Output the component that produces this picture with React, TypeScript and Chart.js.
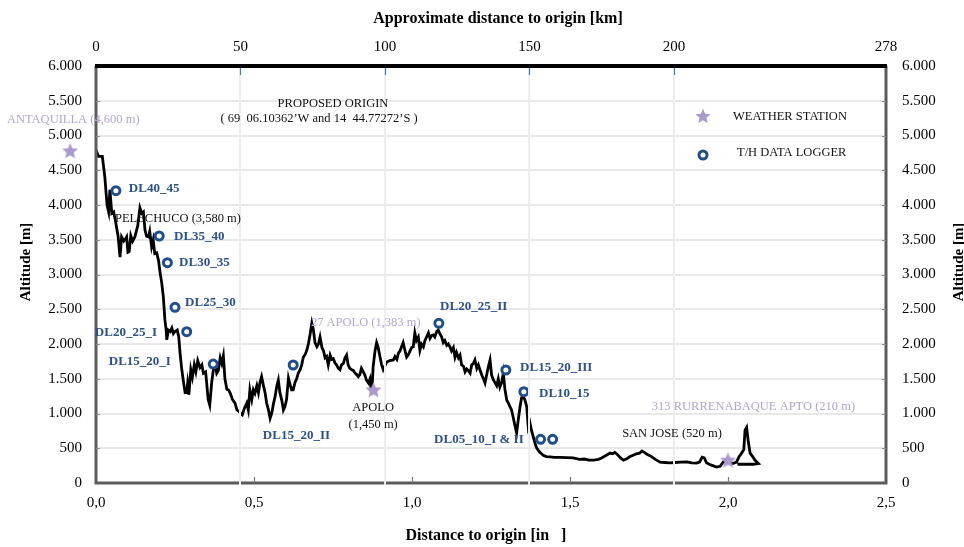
import React, { useEffect, useRef } from "react";
import { Chart, registerables } from "chart.js";
Chart.register(...registerables);

// ---------- DATA ----------
const profileDistance = [
  0.000, 0.008, 0.020, 0.028, 0.035, 0.040, 0.044, 0.050, 0.056, 0.062, 0.070, 0.076, 0.081, 0.088, 0.092, 0.097,
  0.101, 0.105, 0.110, 0.116, 0.123, 0.132, 0.139, 0.145, 0.150, 0.155, 0.160, 0.166, 0.170, 0.176, 0.181, 0.186,
  0.192, 0.198, 0.203, 0.208, 0.213, 0.218, 0.222, 0.224, 0.229, 0.235, 0.240, 0.245, 0.250, 0.257, 0.262, 0.266,
  0.271, 0.276, 0.282, 0.287, 0.290, 0.294, 0.300, 0.305, 0.311, 0.316, 0.322, 0.329, 0.335, 0.340, 0.347, 0.355,
  0.360, 0.366, 0.372, 0.377, 0.382, 0.387, 0.393, 0.398, 0.403, 0.408, 0.414, 0.419, 0.425, 0.432, 0.440, 0.446,
  0.452, 0.458, 0.463, 0.470, 0.477, 0.482, 0.487, 0.493, 0.498, 0.503, 0.509, 0.514, 0.519, 0.524, 0.530, 0.535,
  0.540, 0.546, 0.551, 0.556, 0.562, 0.567, 0.572, 0.577, 0.582, 0.588, 0.593, 0.598, 0.603, 0.609, 0.614, 0.619,
  0.624, 0.630, 0.635, 0.640, 0.646, 0.651, 0.656, 0.662, 0.667, 0.672, 0.678, 0.683, 0.688, 0.693, 0.699, 0.704,
  0.709, 0.715, 0.720, 0.725, 0.730, 0.735, 0.741, 0.746, 0.751, 0.756, 0.761, 0.767, 0.772, 0.777, 0.783, 0.788,
  0.793, 0.798, 0.803, 0.809, 0.814, 0.820, 0.825, 0.830, 0.835, 0.840, 0.846, 0.851, 0.856, 0.862, 0.867, 0.870,
  0.874, 0.877, 0.883, 0.888, 0.893, 0.899, 0.904, 0.909, 0.914, 0.920, 0.930, 0.941, 0.946, 0.952, 0.957, 0.962,
  0.967, 0.972, 0.978, 0.983, 0.988, 0.994, 0.999, 1.004, 1.009, 1.014, 1.020, 1.025, 1.030, 1.036, 1.041, 1.046,
  1.052, 1.057, 1.062, 1.067, 1.072, 1.078, 1.083, 1.088, 1.094, 1.099, 1.104, 1.110, 1.115, 1.120, 1.125, 1.131,
  1.136, 1.141, 1.147, 1.152, 1.157, 1.163, 1.168, 1.173, 1.178, 1.184, 1.189, 1.194, 1.199, 1.205, 1.210, 1.215,
  1.221, 1.226, 1.231, 1.236, 1.242, 1.247, 1.252, 1.258, 1.263, 1.268, 1.273, 1.278, 1.284, 1.289, 1.294, 1.300,
  1.305, 1.310, 1.315, 1.320, 1.326, 1.331, 1.336, 1.342, 1.347, 1.352, 1.357, 1.363, 1.368, 1.373, 1.378, 1.384,
  1.390, 1.395, 1.400, 1.405, 1.410, 1.415, 1.425, 1.437, 1.450, 1.470, 1.490, 1.510, 1.530, 1.545, 1.560, 1.575,
  1.590, 1.600, 1.615, 1.627, 1.635, 1.642, 1.650, 1.660, 1.669, 1.680, 1.690, 1.700, 1.710, 1.720, 1.728, 1.735,
  1.745, 1.758, 1.770, 1.785, 1.800, 1.816, 1.832, 1.850, 1.869, 1.885, 1.900, 1.910, 1.918, 1.925, 1.932, 1.945,
  1.964, 1.975, 1.985, 1.995, 2.005, 2.015, 2.027, 2.035, 2.043, 2.050, 2.054, 2.059, 2.064, 2.070, 2.078, 2.085,
  2.096, 2.080, 2.030
];
const profileAltitude = [
  4790, 4700, 4700, 4400, 4000, 3900, 4220, 3880, 3900, 3760, 3550, 3250, 3540, 3480, 3500, 3540,
  3320, 3330, 3560, 3480, 3540, 3700, 3960, 3880, 3900, 3640, 3550, 3540, 3620, 3400, 3500, 3300,
  3310, 3200, 3020, 2880, 2680, 2350, 2200, 2060, 2200, 2180, 2230, 2150, 2180, 2200, 2100, 1870,
  1650, 1480, 1300, 1300, 1430, 1270, 1630, 1520, 1700, 1600, 1760, 1660, 1700, 1580, 1600, 1200,
  1120, 1440, 1650, 1700, 1580, 1620, 1800, 1720, 1830, 1500, 1350, 1340, 1290, 1200, 1150, 1050,
  1030, 1000, 980, 1080, 1150, 1050, 1340, 1200, 1340, 1290, 1400, 1300, 1450, 1530, 1400, 1300,
  1150, 1050, 930, 1000, 1150, 1250, 1390, 1480, 1300, 1190, 1050, 1100, 1200, 1510, 1420, 1340,
  1340, 1450, 1500, 1580, 1630, 1700, 1810, 1850, 1910, 2000, 2150, 2300, 2200, 2020, 1960, 2000,
  2100, 1950, 1900, 1800, 1820, 1700, 1840, 1780, 1790, 1730, 1700, 1650, 1630, 1700, 1720, 1800,
  1840, 1700, 1650, 1630, 1620, 1580, 1560, 1530, 1560, 1650, 1600, 1550, 1480, 1440, 1500, 1360,
  1400, 1670, 1900, 2020, 1950, 1810, 1700, 1630, 1680, 1740, 1760, 1770, 1820, 1780, 1870, 1900,
  1960, 2020, 1900, 1810, 1840, 1900, 1950, 1960, 2160, 2050, 2100, 1910, 2000, 1960, 2050, 2100,
  2160, 2080, 2120, 2130, 2100, 2180, 2200, 2150, 2100, 2020, 2050, 1980, 2000, 1960, 1900, 1950,
  1810, 1880, 1800, 1840, 1700, 1680, 1600, 1640, 1620, 1580, 1700, 1720, 1770, 1650, 1700, 1630,
  1550, 1500, 1440, 1550, 1680, 1770, 1550, 1480, 1440, 1400, 1500, 1380, 1450, 1580, 1350, 1190,
  1150, 1100, 1050, 950, 820, 720, 900, 1100, 1230, 1240, 1200, 1100, 800, 870, 760, 660,
  560, 500, 470, 440, 420, 400, 380, 375, 370, 368, 365, 362, 340, 345, 330, 330,
  340, 360, 400, 430, 420, 440, 410, 360, 330, 350, 380, 400, 420, 430, 460, 440,
  410, 380, 340, 300, 295, 290, 295, 300, 305, 290, 285, 300, 370, 360, 290, 260,
  230, 240, 300, 330, 300, 280, 300, 380, 430, 480, 760, 800, 600, 430, 380, 330,
  280, 270, 270
];

const stationNames = ["ANTAQUILLA", "27 APOLO", "313 RURRENABAQUE APTO"];
const stationDistance = [-0.082, 0.878, 2.0];
const stationAltitude = [4780, 1340, 330];

const loggerNames = [
  "DL40_45", "DL35_40", "DL30_35", "DL25_30", "DL20_25_I", "DL15_20_I",
  "DL15_20_II", "DL20_25_II", "DL15_20_III", "DL10_15", "DL05_10_I", "DL05_10_II"
];
const loggerDistance = [0.063, 0.200, 0.226, 0.250, 0.287, 0.371, 0.624, 1.085, 1.297, 1.354, 1.407, 1.445];
const loggerAltitude = [4206, 3554, 3170, 2528, 2178, 1712, 1698, 2298, 1626, 1314, 629, 629];

// top (km) axis: labelled ticks; the last label sits at the axis end
const TOP_AXIS_MAX = 273.4;
const topTickKm = [0, 50, 100, 150, 200, TOP_AXIS_MAX];
const topTickLabels = ["0", "50", "100", "150", "200", "278"];
const topGridKm = [50, 100, 150, 200];
const bottomInnerTicks = [0.5, 1.0, 1.5, 2.0];

// annotation texts anchored in data units
const annotations = [
  { text: "ANTAQUILLA (4,600 m)", x: -0.282, y: 5223, kind: "station", align: "left" },
  { text: "PROPOSED ORIGIN", x: 0.75, y: 5453, kind: "place", align: "center" },
  { text: "( 69  06.10362\u2019W and 14  44.77272\u2019S )", x: 0.706, y: 5237, kind: "place", align: "center" },
  { text: "PELECHUCO (3,580 m)", x: 0.060, y: 3798, kind: "place", align: "left" },
  { text: "DL40_45", x: 0.104, y: 4230, kind: "dl", align: "left" },
  { text: "DL35_40", x: 0.247, y: 3540, kind: "dl", align: "left" },
  { text: "DL30_35", x: 0.263, y: 3165, kind: "dl", align: "left" },
  { text: "DL25_30", x: 0.282, y: 2590, kind: "dl", align: "left" },
  { text: "DL20_25_I", x: 0.193, y: 2158, kind: "dl", align: "right" },
  { text: "DL15_20_I", x: 0.237, y: 1741, kind: "dl", align: "right" },
  { text: "DL15_20_II", x: 0.528, y: 676, kind: "dl", align: "left" },
  { text: "DL20_25_II", x: 1.089, y: 2532, kind: "dl", align: "left" },
  { text: "DL15_20_III", x: 1.342, y: 1655, kind: "dl", align: "left" },
  { text: "DL10_15", x: 1.402, y: 1281, kind: "dl", align: "left" },
  { text: "DL05_10_I & II", x: 1.070, y: 619, kind: "dl", align: "left" },
  { text: "27 APOLO (1,383 m)", x: 0.680, y: 2302, kind: "station", align: "left" },
  { text: "APOLO", x: 0.877, y: 1079, kind: "place", align: "center" },
  { text: "(1,450 m)", x: 0.877, y: 835, kind: "place", align: "center" },
  { text: "SAN JOSE (520 m)", x: 1.665, y: 705, kind: "place", align: "left" },
  { text: "313 RURRENABAQUE APTO (210 m)", x: 1.759, y: 1094, kind: "station", align: "left" },
];

// ---------- STYLE ----------
const SERIF = '"Liberation Serif", "Times New Roman", serif';
const BLUE = "#1f4e8c";
const BLUE_TEXT = "#2b518f";
const PURPLE = "#a999cc";
const PURPLE_TEXT = "#b3a5d3";

function makeStar(size: number, color: string) {
  const c = document.createElement("canvas");
  c.width = size;
  c.height = size;
  const g = c.getContext("2d")!;
  const cx = size / 2, cy = size / 2 + size * 0.04;
  const R = size / 2, r = R * 0.45;
  g.beginPath();
  for (let i = 0; i < 10; i++) {
    const rad = i % 2 === 0 ? R : r;
    const a = -Math.PI / 2 + (i * Math.PI) / 5;
    const px = cx + rad * Math.cos(a), py = cy + rad * Math.sin(a);
    if (i === 0) g.moveTo(px, py); else g.lineTo(px, py);
  }
  g.closePath();
  g.fillStyle = color;
  g.fill();
  return c;
}

function fmtAlt(v: number) {
  if (v >= 1000) return `${Math.floor(v / 1000)}.${String(v % 1000).padStart(3, "0")}`;
  return String(v);
}

export default function App() {
  const ref = useRef<HTMLCanvasElement>(null);

  useEffect(() => {
    const canvas = ref.current!;
    const star = makeStar(17, PURPLE);
    const legendStar = makeStar(16, PURPLE);

    const overlay = {
      id: "overlay",
      beforeDatasetsDraw(chart: any) {
        const { ctx, chartArea: a, scales } = chart;
        ctx.save();
        ctx.strokeStyle = "#e8e8e8";
        ctx.lineWidth = 2;
        for (let v = 500; v < 6000; v += 500) {
          const y = Math.round(scales.y.getPixelForValue(v));
          ctx.beginPath();
          ctx.moveTo(a.left, y);
          ctx.lineTo(a.right, y);
          ctx.stroke();
        }
        ctx.restore();
      },
      afterDraw(chart: any) {
        const { ctx, chartArea: a, scales } = chart;
        ctx.save();
        // frame
        ctx.lineCap = "butt";
        ctx.strokeStyle = "#5c5c5c";
        ctx.lineWidth = 3;
        ctx.beginPath();
        ctx.moveTo(a.left, a.top);
        ctx.lineTo(a.left, a.bottom);
        ctx.lineTo(a.right, a.bottom);
        ctx.lineTo(a.right, a.top);
        ctx.stroke();
        ctx.strokeStyle = "#000";
        ctx.lineWidth = 4;
        ctx.beginPath();
        ctx.moveTo(a.left - 1, a.top);
        ctx.lineTo(a.right + 1, a.top);
        ctx.stroke();

        // vertical grid lines (drawn over the profile)
        ctx.strokeStyle = "#ededed";
        ctx.lineWidth = 2;
        topGridKm.forEach((km) => {
          const x = Math.round(scales.x2.getPixelForValue(km));
          ctx.beginPath();
          ctx.moveTo(x, a.top + 2);
          ctx.lineTo(x, a.bottom + 2);
          ctx.stroke();
        });
        // top blue ticks
        ctx.strokeStyle = "#4a78b8";
        ctx.lineWidth = 1.2;
        topGridKm.forEach((km) => {
          const x = Math.round(scales.x2.getPixelForValue(km)) + 0.5;
          ctx.beginPath();
          ctx.moveTo(x, a.top + 2);
          ctx.lineTo(x, a.top + 9);
          ctx.stroke();
        });
        // bottom inner ticks
        ctx.strokeStyle = "#777";
        ctx.lineWidth = 1.2;
        bottomInnerTicks.forEach((d) => {
          const x = Math.round(scales.x.getPixelForValue(d)) + 0.5;
          ctx.beginPath();
          ctx.moveTo(x, a.bottom - 6);
          ctx.lineTo(x, a.bottom);
          ctx.stroke();
        });
        // left / right small ticks
        ctx.strokeStyle = "#888";
        for (let v = 500; v < 6000; v += 500) {
          const y = Math.round(scales.y.getPixelForValue(v)) + 0.5;
          ctx.beginPath();
          ctx.moveTo(a.left, y);
          ctx.lineTo(a.left + 4, y);
          ctx.moveTo(a.right - 4, y);
          ctx.lineTo(a.right, y);
          ctx.stroke();
        }

        // stations lying outside the plotted range (e.g. left of origin)
        stationDistance.forEach((d, i) => {
          if (d < scales.x.min || d > scales.x.max) {
            const x = scales.x.getPixelForValue(d);
            const y = scales.y.getPixelForValue(stationAltitude[i]);
            ctx.drawImage(star, x - star.width / 2, y - star.height / 2);
          }
        });

        // annotations
        ctx.textBaseline = "middle";
        annotations.forEach((an) => {
          const x = scales.x.getPixelForValue(an.x);
          const y = scales.y.getPixelForValue(an.y);
          if (an.kind === "dl") {
            ctx.font = `bold 13px ${SERIF}`;
            ctx.fillStyle = BLUE_TEXT;
          } else if (an.kind === "station") {
            ctx.font = `12.5px ${SERIF}`;
            ctx.fillStyle = PURPLE_TEXT;
          } else {
            ctx.font = `12.5px ${SERIF}`;
            ctx.fillStyle = "#111";
          }
          ctx.textAlign = an.align as CanvasTextAlign;
          ctx.fillText(an.text, x, y);
        });

        // legend
        const lx = a.left + 607;
        ctx.drawImage(legendStar, lx - 8, a.top + 50 - 8);
        ctx.beginPath();
        ctx.arc(lx, a.top + 89, 4, 0, Math.PI * 2);
        ctx.fillStyle = "#fff";
        ctx.fill();
        ctx.strokeStyle = BLUE;
        ctx.lineWidth = 3;
        ctx.stroke();
        ctx.fillStyle = "#111";
        ctx.font = `12.5px ${SERIF}`;
        ctx.textAlign = "left";
        ctx.fillText("WEATHER STATION", lx + 30, a.top + 51);
        ctx.fillText("T/H DATA LOGGER", lx + 34, a.top + 87);

        // axis titles
        ctx.fillStyle = "#000";
        ctx.font = `bold 16px ${SERIF}`;
        ctx.textAlign = "center";
        ctx.fillText("Approximate distance to origin [km]", 498, 19);
        ctx.fillText("Distance to origin [in   ]", 486, 536);
        ctx.font = `bold 15px ${SERIF}`;
        ctx.translate(26, 262);
        ctx.rotate(-Math.PI / 2);
        ctx.fillText("Altitude [m]", 0, 0);
        ctx.rotate(Math.PI / 2);
        ctx.translate(-26, -262);
        ctx.translate(959, 262);
        ctx.rotate(-Math.PI / 2);
        ctx.fillText("Altitude [m]", 0, 0);
        ctx.restore();
      },
    };

    const tickFont = { family: SERIF, size: 15 };

    const chart = new Chart(canvas, {
      type: "scatter",
      data: {
        datasets: [
          {
            label: "Profile",
            data: profileDistance.map((d, i) => ({ x: d, y: profileAltitude[i] })),
            showLine: true,
            borderColor: "#000",
            borderWidth: 2.8,
            pointRadius: 0,
            tension: 0,
            order: 3,
          },
          {
            label: "WEATHER STATION",
            data: stationDistance.map((d, i) => ({ x: d, y: stationAltitude[i], name: stationNames[i] })),
            pointStyle: star as any,
            pointRadius: 8,
            showLine: false,
            clip: false as any,
            order: 1,
          },
          {
            label: "T/H DATA LOGGER",
            data: loggerDistance.map((d, i) => ({ x: d, y: loggerAltitude[i], name: loggerNames[i] })),
            pointStyle: "circle",
            pointRadius: 4,
            borderWidth: 3,
            borderColor: BLUE,
            backgroundColor: "#fff",
            showLine: false,
            order: 2,
          },
        ],
      },
      options: {
        responsive: false,
        animation: false,
        layout: { padding: 0 },
        plugins: { legend: { display: false }, tooltip: { enabled: false }, title: { display: false } },
        scales: {
          x: {
            type: "linear",
            position: "bottom",
            min: 0,
            max: 2.5,
            ticks: {
              stepSize: 0.5,
              callback: (v: any) => Number(v).toFixed(1).replace(".", ","),
              font: tickFont,
              color: "#000",
              padding: 11,
              maxRotation: 0,
              autoSkip: false,
            },
            grid: { display: false, drawTicks: false },
            border: { display: false },
            afterFit: (s: any) => { s.height = 64; },
          },
          x2: {
            type: "linear",
            position: "top",
            min: 0,
            max: TOP_AXIS_MAX,
            afterBuildTicks: (s: any) => { s.ticks = topTickKm.map((v) => ({ value: v })); },
            ticks: {
              callback: (_v: any, i: number) => topTickLabels[i],
              font: tickFont,
              color: "#000",
              padding: 10,
              maxRotation: 0,
              autoSkip: false,
            },
            grid: { display: false, drawTicks: false },
            border: { display: false },
            afterFit: (s: any) => { s.height = 66; },
          },
          y: {
            type: "linear",
            position: "left",
            min: 0,
            max: 6000,
            ticks: { stepSize: 500, callback: (v: any) => fmtAlt(Number(v)), font: tickFont, color: "#000", padding: 14 },
            grid: { display: false, drawTicks: false },
            border: { display: false },
            afterFit: (s: any) => { s.width = 96; },
          },
          y2: {
            type: "linear",
            position: "right",
            min: 0,
            max: 6000,
            ticks: { stepSize: 500, callback: (v: any) => fmtAlt(Number(v)), font: tickFont, color: "#000", padding: 16 },
            grid: { display: false, drawTicks: false },
            border: { display: false },
            afterFit: (s: any) => { s.width = 78; },
          },
        },
      } as any,
      plugins: [overlay],
    });
    return () => chart.destroy();
  }, []);

  return (
    <div style={{ position: "absolute", left: 0, top: 0, width: 964, height: 547, background: "#fff" }}>
      <canvas ref={ref} width={964} height={547} style={{ display: "block" }} />
    </div>
  );
}
